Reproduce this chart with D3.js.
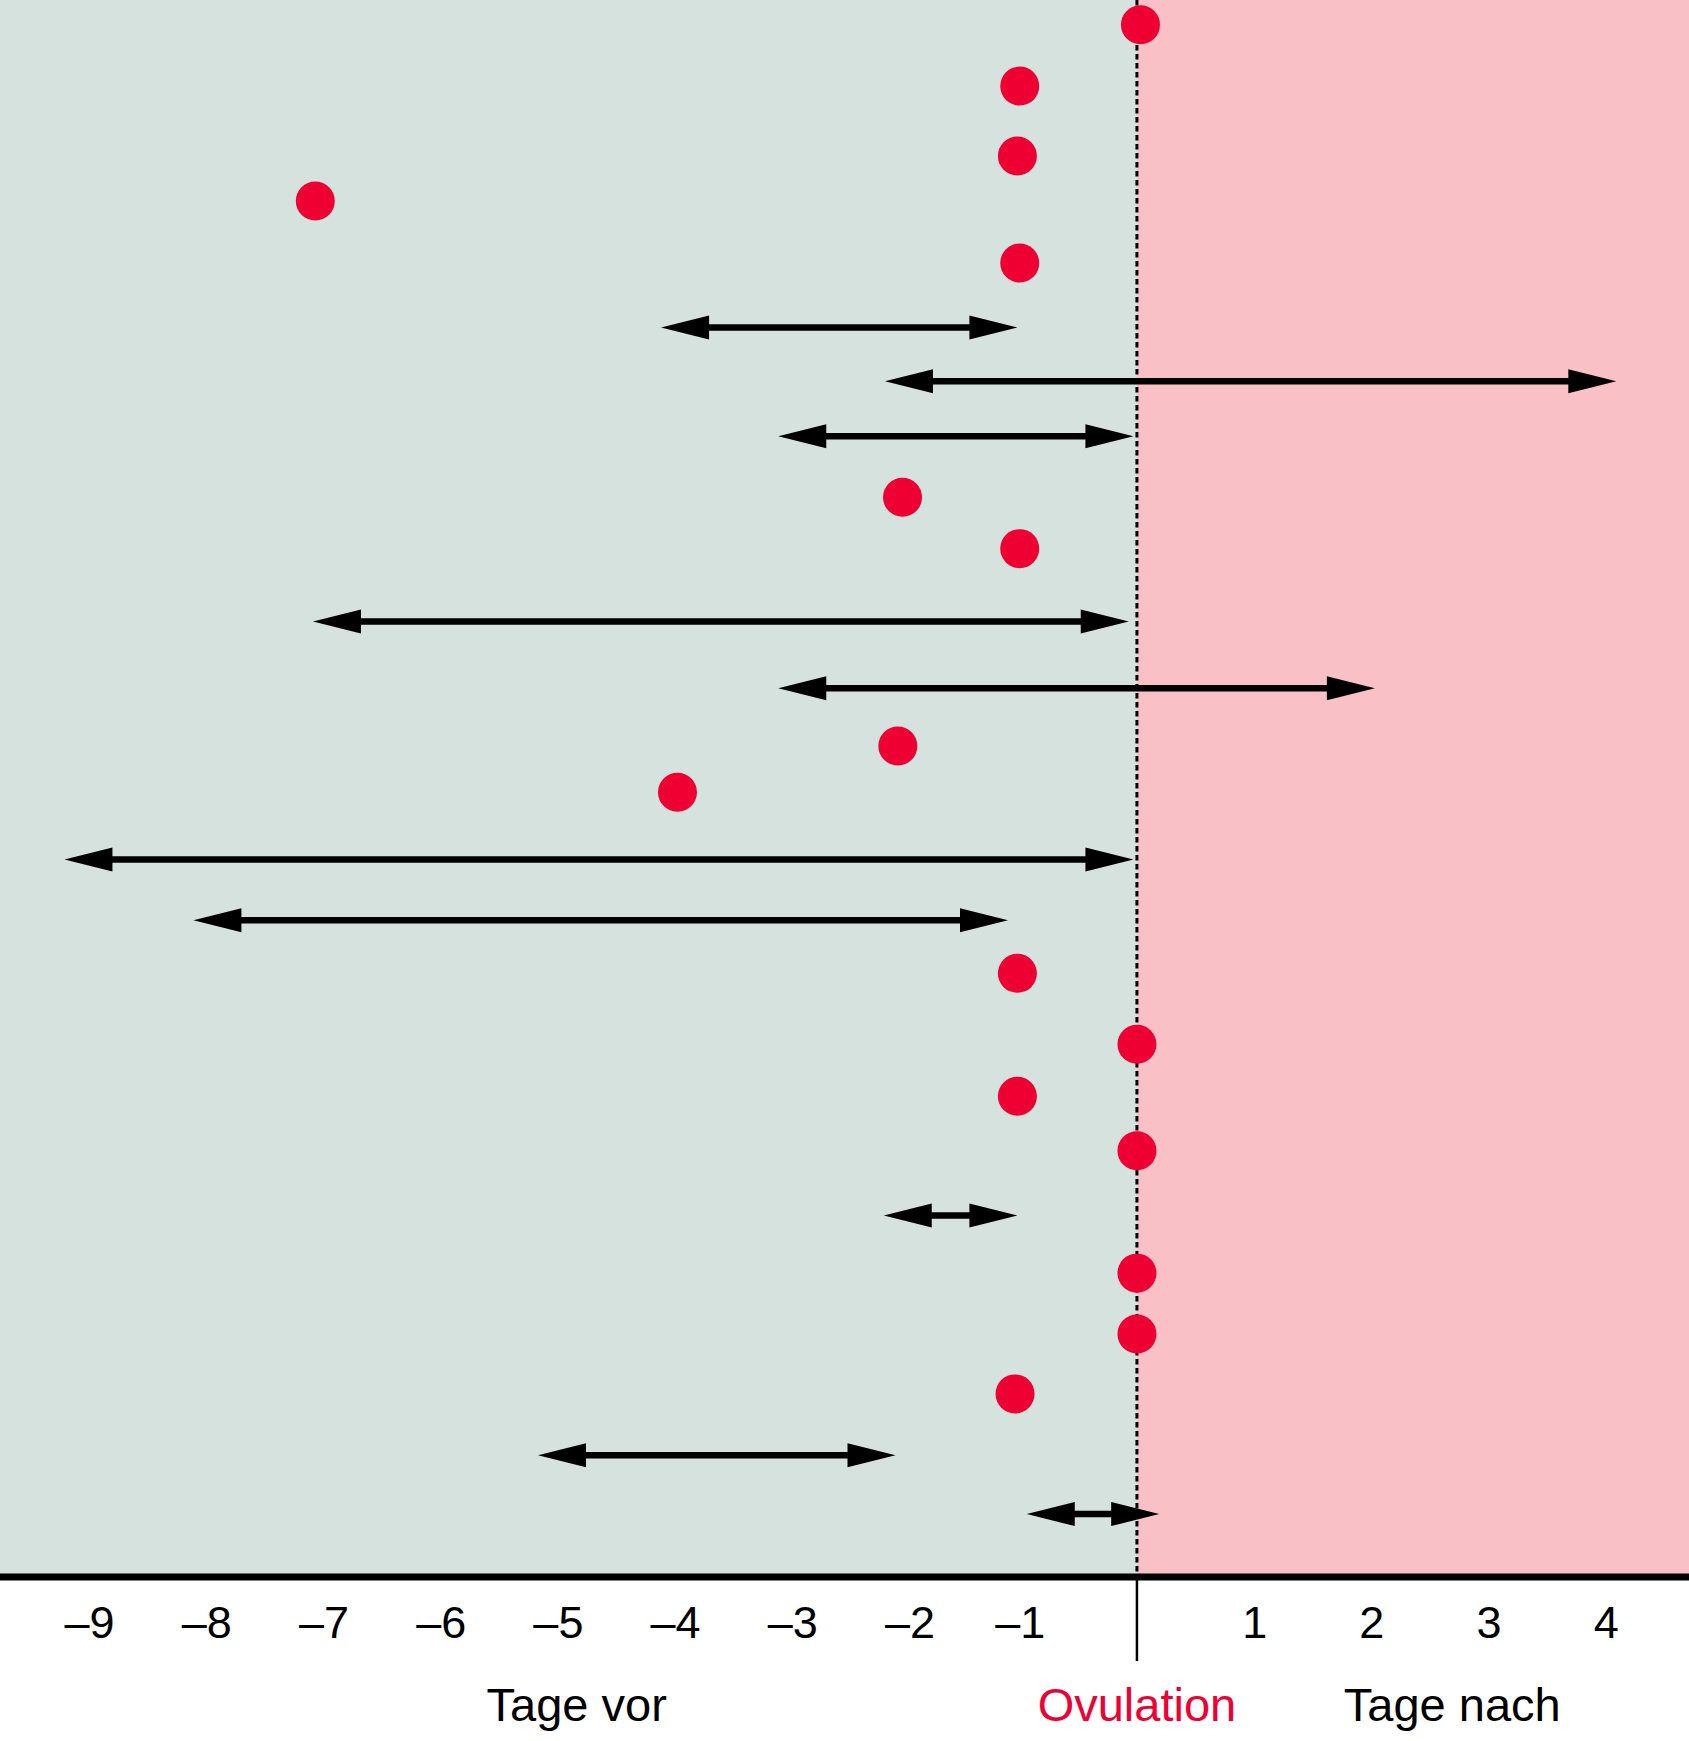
<!DOCTYPE html>
<html>
<head>
<meta charset="utf-8">
<script src="https://cdn.jsdelivr.net/npm/d3@7"></script>
<style>
  html, body { margin: 0; padding: 0; background: #ffffff; }
  svg { display: block; }
</style>
</head>
<body>
<svg id="chart" width="1689" height="1741"></svg>
<script>
// ---- Data (days relative to ovulation; row = vertical case position) ----
const dotDays = [0.03, -1.0, -1.02, -7.01, -1.0, -2.0, -1.0, -2.04, -3.92, -1.02, 0, -1.02, 0, 0, 0, -1.04];
const dotRows = [0.47, 1.64, 2.97, 3.83, 5.01, 9.47, 10.45, 14.21, 15.09, 18.54, 19.89, 20.88, 21.92, 24.25, 25.41, 26.55];

const arrowStarts = [-4.06, -2.15, -3.06, -7.03, -3.06, -9.15, -8.05, -2.16, -5.11, -0.94];
const arrowEnds   = [-1.02,  4.09, -0.03, -0.07,  2.03, -0.03, -1.10, -1.02, -2.06,  0.19];
const arrowRows   = [ 6.24,  7.26,  8.31, 11.84, 13.11, 16.37, 17.53, 23.15, 27.72, 28.84];

const tickValues = [-9, -8, -7, -6, -5, -4, -3, -2, -1, 1, 2, 3, 4];
const tickLabels = ["–9", "–8", "–7", "–6", "–5", "–4", "–3", "–2", "–1", "1", "2", "3", "4"];

const zoneLabels = ["Tage vor", "Ovulation", "Tage nach"];
const zoneLabelDays = [-4.78, 0, 2.69];

// ---- Layout ----
const W = 1689, H = 1741;
const plotBottom = 1577;
const fontFamily = "'Liberation Sans', Arial, Helvetica, sans-serif";
const green = "#d6e2de", pink = "#f9c0c6", red = "#ee0033";

const x = d3.scaleLinear().domain([-9.70, 4.71]).range([0, W]);
const y = d3.scaleLinear().domain([0, 30]).range([0, 1575]);

const svg = d3.select("#chart");

// background zones
svg.append("rect").attr("x", 0).attr("y", 0)
  .attr("width", x(0)).attr("height", plotBottom).attr("fill", green);
svg.append("rect").attr("x", x(0)).attr("y", 0)
  .attr("width", W - x(0)).attr("height", plotBottom).attr("fill", pink);

// ovulation dotted line
svg.append("line")
  .attr("x1", x(0)).attr("x2", x(0)).attr("y1", 0).attr("y2", plotBottom)
  .attr("stroke", "#000").attr("stroke-width", 3)
  .attr("stroke-dasharray", "5.5,3.5");

// arrows
const headLen = 48, headHalf = 12;
const arrowData = arrowStarts.map((s, i) => ({ s, e: arrowEnds[i], r: arrowRows[i] }));
const ag = svg.append("g").attr("class", "arrows");
ag.selectAll("line").data(arrowData).join("line")
  .attr("x1", d => x(d.s) + headLen - 2)
  .attr("x2", d => x(d.e) - headLen + 2)
  .attr("y1", d => y(d.r)).attr("y2", d => y(d.r))
  .attr("stroke", "#000").attr("stroke-width", 6.5);
ag.selectAll("path.left").data(arrowData).join("path").attr("class", "left")
  .attr("d", d => {
    const tx = x(d.s), ty = y(d.r);
    return `M${tx},${ty}L${tx + headLen},${ty - headHalf}L${tx + headLen},${ty + headHalf}Z`;
  }).attr("fill", "#000");
ag.selectAll("path.right").data(arrowData).join("path").attr("class", "right")
  .attr("d", d => {
    const tx = x(d.e), ty = y(d.r);
    return `M${tx},${ty}L${tx - headLen},${ty - headHalf}L${tx - headLen},${ty + headHalf}Z`;
  }).attr("fill", "#000");

// dots
svg.append("g").selectAll("circle").data(dotDays.map((d, i) => ({ d, r: dotRows[i] })))
  .join("circle")
  .attr("cx", d => x(d.d)).attr("cy", d => y(d.r)).attr("r", 19.5)
  .attr("fill", red);

// x axis
const axis = d3.axisBottom(x).tickValues(tickValues).tickSize(0)
  .tickFormat((d, i) => tickLabels[i]);
const axG = svg.append("g").attr("transform", `translate(0,${plotBottom})`).call(axis);
axG.select(".domain").remove();
axG.selectAll(".tick text")
  .attr("y", 61).attr("dy", 0)
  .attr("dx", d => (d < -1 ? 7 : 0))
  .attr("font-family", fontFamily).attr("font-size", 45).attr("fill", "#000");

// thick baseline
svg.append("line").attr("x1", 0).attr("x2", W)
  .attr("y1", plotBottom).attr("y2", plotBottom)
  .attr("stroke", "#000").attr("stroke-width", 7);

// zero tick below axis
svg.append("line").attr("x1", x(0)).attr("x2", x(0))
  .attr("y1", plotBottom).attr("y2", 1661)
  .attr("stroke", "#000").attr("stroke-width", 2.5);

// zone labels
svg.append("g").selectAll("text").data(zoneLabels).join("text")
  .attr("x", (d, i) => x(zoneLabelDays[i])).attr("y", 1721)
  .attr("text-anchor", "middle")
  .attr("font-family", fontFamily).attr("font-size", 47)
  .attr("fill", (d, i) => i === 1 ? red : "#000")
  .text(d => d);
</script>
</body>
</html>
